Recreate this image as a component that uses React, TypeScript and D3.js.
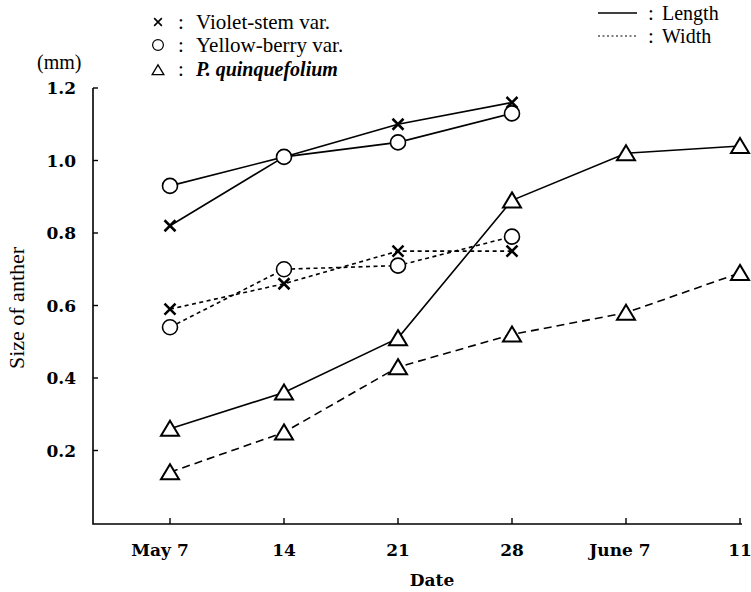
import React from "react";
import * as d3 from "d3";

const dates = ["May 7", "14", "21", "28", "June 7", "11"];
const yTicks = [0.2, 0.4, 0.6, 0.8, 1.0, 1.2];

const violetLength = [0.82, 1.01, 1.1, 1.16];
const yellowLength = [0.93, 1.01, 1.05, 1.13];
const violetWidth = [0.59, 0.66, 0.75, 0.75];
const yellowWidth = [0.54, 0.7, 0.71, 0.79];
const quinqLength = [0.26, 0.36, 0.51, 0.89, 1.02, 1.04];
const quinqWidth = [0.14, 0.25, 0.43, 0.52, 0.58, 0.69];

const W = 751;
const H = 592;
const SERIF = "'DejaVu Serif', serif";
const TIMES = "'Liberation Serif', serif";

const x = d3.scalePoint<string>().domain(dates).range([170, 740]);
const y = d3.scaleLinear().domain([0, 1.2]).range([523, 88]);

type Marker = "x" | "o" | "t";

function MarkerShape({ type, cx, cy, s = 1, sw = 2 }: { type: Marker; cx: number; cy: number; s?: number; sw?: number }) {
  if (type === "x") {
    const r = 5.5 * s;
    return (
      <path
        d={`M${cx - r},${cy - r}L${cx + r},${cy + r}M${cx - r},${cy + r}L${cx + r},${cy - r}`}
        stroke="#000"
        strokeWidth={sw + 0.5}
        fill="none"
      />
    );
  }
  if (type === "o") {
    return <circle cx={cx} cy={cy} r={7.5 * s} fill="#fff" stroke="#000" strokeWidth={sw - 0.4} />;
  }
  const hw = 9 * s;
  const hh = 7 * s;
  return (
    <path
      d={`M${cx},${cy - hh - 1 * s}L${cx + hw},${cy + hh}L${cx - hw},${cy + hh}Z`}
      fill="#fff"
      stroke="#000"
      strokeWidth={sw}
      strokeLinejoin="miter"
    />
  );
}

function Series({ values, marker, dash }: { values: number[]; marker: Marker; dash?: string }) {
  const pts: [number, number][] = values.map((v, i) => [x(dates[i]) as number, y(v)]);
  const line = d3.line<[number, number]>().x((d) => d[0]).y((d) => d[1]);
  return (
    <g>
      <path d={line(pts) || ""} fill="none" stroke="#000" strokeWidth={1.6} strokeDasharray={dash} />
      {pts.map((p, i) => (
        <MarkerShape key={i} type={marker} cx={p[0]} cy={p[1]} />
      ))}
    </g>
  );
}

const xLabelShift: Record<string, number> = { "May 7": -10, "June 7": -6, "11": 0 };

export default function App() {
  const x0 = 93;
  const yBase = 524;
  const xEnd = 742;
  const txt = (family: string, size: number, extra: React.CSSProperties = {}) => ({
    style: { fontFamily: family, fontSize: size, ...extra },
  });
  return (
    <svg width={W} height={H} style={{ display: "block", position: "absolute", left: 0, top: 0, background: "#fff" }}>
      <rect width={W} height={H} fill="#fff" />
      {/* axes */}
      <path d={`M${x0},${y(1.2)}L${x0},${yBase}L${xEnd},${yBase}`} fill="none" stroke="#000" strokeWidth={1.6} />
      {yTicks.map((t) => (
        <g key={t}>
          <line x1={x0} x2={x0 + 5} y1={y(t)} y2={y(t)} stroke="#000" strokeWidth={1.4} />
          <text x={76} y={y(t) + 6} textAnchor="end" fill="#000" {...txt(SERIF, 17, { fontWeight: "bold" })}>
            {t.toFixed(1)}
          </text>
        </g>
      ))}
      {dates.map((d) => (
        <g key={d}>
          <line x1={x(d)} x2={x(d)} y1={yBase} y2={yBase - 6} stroke="#000" strokeWidth={1.4} />
          <text x={(x(d) as number) + (xLabelShift[d] || 0)} y={556} textAnchor="middle" fill="#000" {...txt(SERIF, 17, { fontWeight: "bold" })}>
            {d}
          </text>
        </g>
      ))}
      <text x={432} y={586} textAnchor="middle" {...txt(SERIF, 17, { fontWeight: "bold" })}>Date</text>
      <text x={37} y={69} {...txt(TIMES, 20)}>(mm)</text>
      <text transform={`translate(24,308) rotate(-90)`} textAnchor="middle" {...txt(TIMES, 22)}>Size of anther</text>

      {/* series */}
      <Series values={quinqWidth} marker="t" dash="8,5" />
      <Series values={violetWidth} marker="x" dash="4,3.5" />
      <Series values={yellowWidth} marker="o" dash="4,3.5" />
      <Series values={quinqLength} marker="t" />
      <Series values={violetLength} marker="x" />
      <Series values={yellowLength} marker="o" />

      {/* legend left */}
      <MarkerShape type="x" cx={158} cy={22} s={0.7} sw={1.1} />
      <MarkerShape type="o" cx={158} cy={45} s={0.72} sw={1.6} />
      <MarkerShape type="t" cx={158} cy={70} s={0.65} sw={1.3} />
      <text x={178} y={29} {...txt(TIMES, 21)}>:</text>
      <text x={178} y={52} {...txt(TIMES, 21)}>:</text>
      <text x={178} y={76} {...txt(TIMES, 21)}>:</text>
      <text x={196} y={29} {...txt(TIMES, 21)}>Violet-stem var.</text>
      <text x={196} y={52} {...txt(TIMES, 21)}>Yellow-berry var.</text>
      <text x={196} y={76} {...txt(TIMES, 20, { fontStyle: "italic", fontWeight: "bold" })}>P. quinquefolium</text>

      {/* legend right */}
      <line x1={598} x2={637} y1={13} y2={13} stroke="#000" strokeWidth={1.4} />
      <line x1={598} x2={637} y1={36} y2={36} stroke="#000" strokeWidth={1.2} strokeDasharray="2,2.5" />
      <text x={648} y={20} {...txt(TIMES, 21)}>:</text>
      <text x={648} y={43} {...txt(TIMES, 21)}>:</text>
      <text x={662} y={20} {...txt(TIMES, 20)}>Length</text>
      <text x={662} y={43} {...txt(TIMES, 20)}>Width</text>
    </svg>
  );
}
